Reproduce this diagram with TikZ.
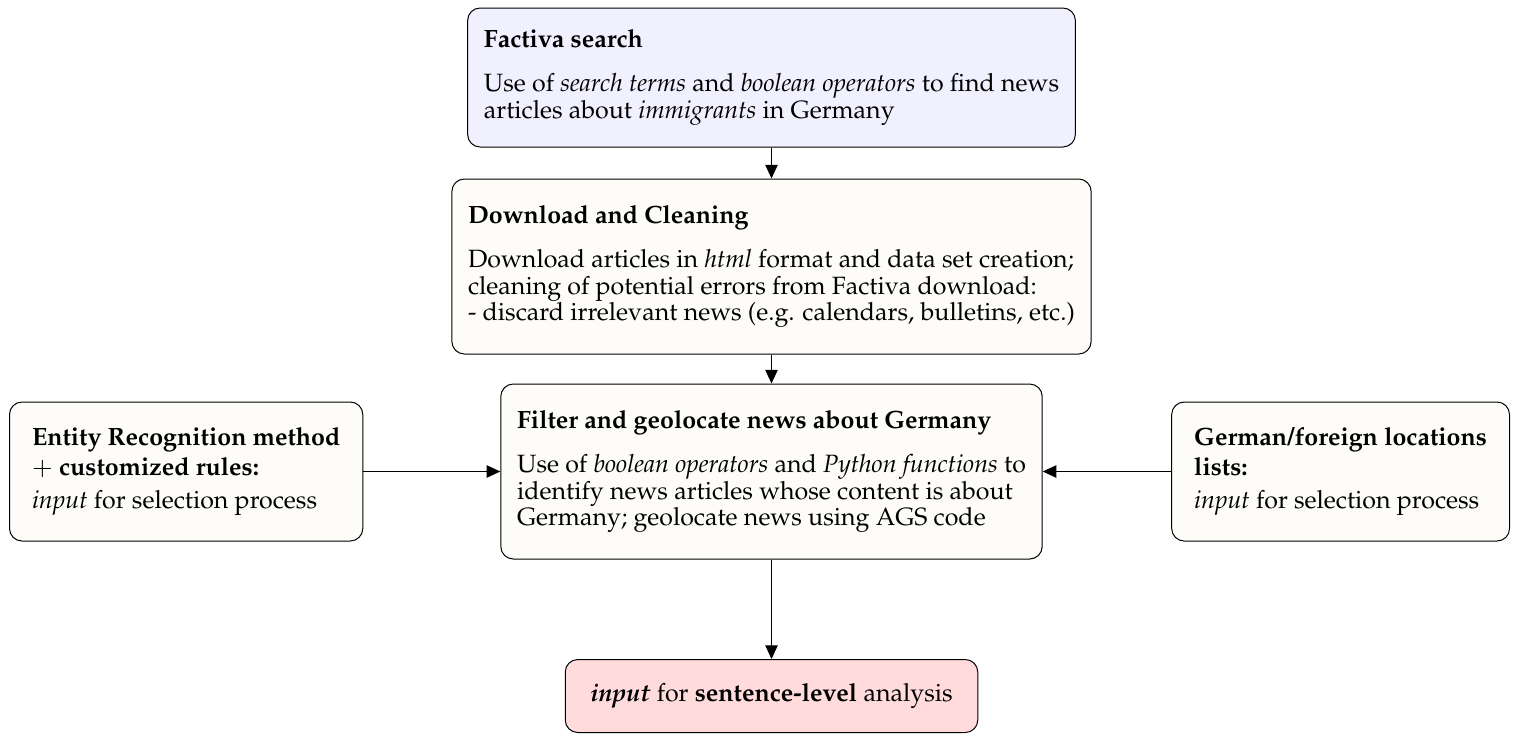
\documentclass[tikz,border=0pt]{standalone}
\usepackage[T1]{fontenc}
\usepackage{mathpazo}
\usetikzlibrary{arrows.meta}
\definecolor{paper}{RGB}{253,252,249}

\begin{document}
\begin{tikzpicture}[x=0.4pt,y=-0.4pt,
    box/.style={draw,rounded corners=5pt,align=left,inner xsep=6.5pt,inner ysep=5pt,
      font=\fontsize{10}{10.6}\selectfont},
    stepbox/.style={box,fill=paper},
    sidebox/.style={box,fill=paper,minimum height=139*0.4pt,inner xsep=9pt},
    arr/.style={-{Triangle[width=5pt,length=5.5pt]}}]
  \useasboundingbox (0,0) rectangle (1518,734);
  \def\cx{771.5};
  \def\gap{\\[7pt]};
  \node[stepbox,fill=blue!6,minimum height=139*0.4pt] (search) at (\cx,77.5)
    {\textbf{Factiva search}\gap
     Use of \textit{search terms} and \textit{boolean operators} to find news\\
     articles about \textit{immigrants} in Germany};
  \node[stepbox,minimum height=175*0.4pt] (clean) at (\cx,266.5)
    {\textbf{Download and Cleaning}\gap
     Download articles in \textit{html} format and data set creation;\\
     cleaning of potential errors from Factiva download:\\
     - discard irrelevant news (e.g. calendars, bulletins, etc.)};
  \node[stepbox,minimum height=175*0.4pt] (filter) at (\cx,471.5)
    {\textbf{Filter and geolocate news about Germany}\gap
     Use of \textit{boolean operators} and \textit{Python functions} to\\
     identify news articles whose content is about\\
     Germany; geolocate news using AGS code};
  \node[sidebox,anchor=west] (ner) at (9,471.5)
    {\textbf{Entity Recognition method}\\[1.5pt]
     $+$ \textbf{customized rules:}\\[2.5pt]
     \textit{input} for selection process};
  \node[sidebox,anchor=east] (loc) at (1510,471.5)
    {\textbf{German/foreign locations}\\[1.5pt]
     \textbf{lists:}\\[2.5pt]
     \textit{input} for selection process};
  \node[box,fill=red!14,minimum height=73*0.4pt,inner xsep=10pt,anchor=south] (out) at (\cx,733)
    {\textbf{\textit{input}} for \textbf{sentence-level} analysis};
  \draw[arr] (search) -- (clean);
  \draw[arr] (clean) -- (filter);
  \draw[arr] (filter) -- (out);
  \draw[arr] (ner) -- (filter);
  \draw[arr] (loc) -- (filter);
\end{tikzpicture}
\end{document}
